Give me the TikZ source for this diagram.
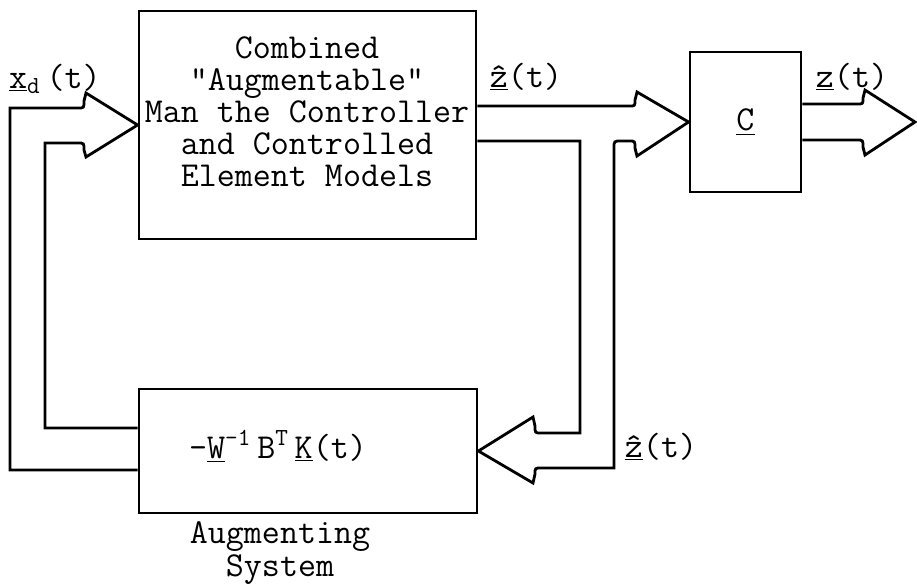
\documentclass[tikz,border=0pt]{standalone}
\usepackage{fontspec}

\begin{document}
\begin{tikzpicture}[x=0.5pt,y=-0.5pt]
\tikzset{
  block/.style={draw,line width=1.4pt,inner sep=0pt},
  boxtext/.style={align=center,font=\ttfamily\fontsize{17.5}{16}\selectfont,inner sep=0pt},
  sig/.style={font=\ttfamily\fontsize{17.5}{16}\selectfont,inner sep=0pt},
  pipe/.style={line width=1.4pt,line join=miter}
}
\useasboundingbox (0,0) rectangle (917,586);
% boxes
\node[block,minimum width=168.5pt,minimum height=114pt] (main) at (307.5,125) {};
\node[boxtext] (maintext) at (307,112) {Combined\\\char34Augmentable\char34\\Man the Controller\\and Controlled\\Element Models};
\node[block,minimum width=55.5pt,minimum height=70pt,font=\ttfamily\fontsize{17.5}{16}\selectfont] (cbox) at (745.5,122) {\underline{C}};
\node[block,minimum width=169pt,minimum height=62pt] (aug) at (308,451) {};
\node[sig,anchor=base] (augtext) at (278,458) {-\underline{W}\textsuperscript{-1}\,B\textsuperscript{T}\,\underline{K}(t)};
\node[boxtext,font=\ttfamily\fontsize{17.5}{16.5}\selectfont] (augcap) at (280,553) {Augmenting\\System};
% signal labels
\node[sig,anchor=base] (xdlabel) at (55,88) {\underline{x}\textsubscript{d}\,(t)};
\node[sig,anchor=base] (zhattop) at (526,87) {\underline{\^z}(t)};
\node[sig,anchor=base] (zhatbot) at (661,457) {\underline{\^z}(t)};
\node[sig,anchor=base] (zout) at (852,87) {\underline{z}(t)};
\coordinate (zend) at (915,122);
% fat arrows
\draw[pipe] ([yshift=9.5pt]main.east) -- (629,106) .. controls (635,106) .. (635,100) -- (637,92) -- (cbox.west)
  -- (637,156) -- (635,148) .. controls (635,141) .. (629,141) -- (621,141) .. controls (614,141) .. (614,148)
  -- (614,468) -- (541,468) .. controls (535,468) .. (535,474) -- (533,483) -- (aug.east)
  -- (533,417) -- (535,426) .. controls (535,433) .. (541,433) -- (580,433) -- (580,141) -- ([yshift=-8pt]main.east);
\draw[pipe] ([yshift=-9.5pt]aug.west) -- (10,470) -- (10,108) -- (78,108) .. controls (84,108) .. (84,101) -- (86,93) -- (main.west)
  -- (86,157) -- (84,150) .. controls (84,143) .. (78,143) -- (45,143) -- (45,428) -- ([yshift=11.5pt]aug.west);
\draw[pipe] ([yshift=9pt]cbox.east) -- (857,104) .. controls (863,104) .. (863,98) -- (865,90) -- (zend)
  -- (865,155) -- (863,147) .. controls (863,140) .. (857,140) -- ([yshift=-9pt]cbox.east);
\end{tikzpicture}
\end{document}
